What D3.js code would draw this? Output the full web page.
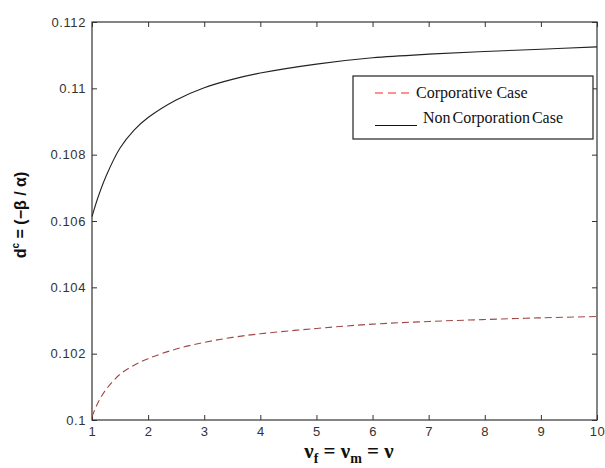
<!DOCTYPE html>
<html><head><meta charset="utf-8">
<script src="https://cdn.jsdelivr.net/npm/d3@7"></script>
<style>
body{margin:0;background:#fff;}
svg{display:block;}
</style></head>
<body><svg id="c" width="605" height="468"></svg>
<script>
const nu = [1, 1.1, 1.25, 1.5, 1.75, 2, 2.5, 3, 3.5, 4, 5, 6, 7, 8, 9, 10];
const nonCorp = [0.10613, 0.10668, 0.10735, 0.10820, 0.10874, 0.10912, 0.10965, 0.11002, 0.11027, 0.11046, 0.11073, 0.11092, 0.11103, 0.11111, 0.11118, 0.11125];
const corp = [0.10010, 0.10050, 0.10092, 0.10138, 0.10165, 0.10185, 0.10214, 0.10234, 0.10249, 0.10260, 0.10276, 0.10289, 0.10297, 0.10303, 0.10308, 0.10312];
const xTicks = [1,2,3,4,5,6,7,8,9,10];
const yTicks = [0.1, 0.102, 0.104, 0.106, 0.108, 0.11, 0.112];
const legendLabels = ["Corporative Case", "Non Corporation Case"];

const svg = d3.select("#c");
const L = 92, R = 597, T = 22, B = 420;
const x = d3.scaleLinear().domain([1,10]).range([L,R]);
const y = d3.scaleLinear().domain([0.1,0.112]).range([B,T]);
const tickFont = "Arial, 'Liberation Sans', sans-serif";
const axCol = "#333";

// frame
svg.append("rect").attr("x",L).attr("y",T).attr("width",R-L).attr("height",B-T)
  .attr("fill","#fff").attr("stroke",axCol).attr("stroke-width",1.2);

// axes with inward ticks
const fmtY = d => String(+d.toFixed(3));
const gB = svg.append("g").attr("transform",`translate(0,${B})`)
  .call(d3.axisBottom(x).tickValues(xTicks).tickSizeInner(-5).tickSizeOuter(0).tickPadding(7).tickFormat(d3.format("d")));
const gT = svg.append("g").attr("transform",`translate(0,${T})`)
  .call(d3.axisTop(x).tickValues(xTicks).tickSizeInner(-5).tickSizeOuter(0).tickFormat(""));
const gL = svg.append("g").attr("transform",`translate(${L},0)`)
  .call(d3.axisLeft(y).tickValues(yTicks).tickSizeInner(-5).tickSizeOuter(0).tickPadding(6).tickFormat(fmtY));
const gR = svg.append("g").attr("transform",`translate(${R},0)`)
  .call(d3.axisRight(y).tickValues(yTicks).tickSizeInner(-5).tickSizeOuter(0).tickFormat(""));
[gB,gT,gL,gR].forEach(g=>{
  g.select(".domain").remove();
  g.selectAll(".tick line").attr("stroke",axCol);
  g.selectAll(".tick text").attr("fill","#333").style("font-family",tickFont).style("font-size","13px").style("letter-spacing","0.6px");
});

// lines
const line = vals => d3.line().x((d,i)=>x(nu[i])).y(d=>y(d)).curve(d3.curveCatmullRom.alpha(0.5))(vals);
svg.append("path").attr("d",line(nonCorp)).attr("fill","none").attr("stroke","#222").attr("stroke-width",1.1);
svg.append("path").attr("d",line(corp)).attr("fill","none").attr("stroke","#a04848").attr("stroke-width",1.1).attr("stroke-dasharray","7,4");

// legend
const lg = svg.append("g");
lg.append("rect").attr("x",353).attr("y",76).attr("width",240).attr("height",63)
  .attr("fill","#fff").attr("stroke","#222").attr("stroke-width",1.2);
lg.append("line").attr("x1",375).attr("x2",410).attr("y1",93).attr("y2",93)
  .attr("stroke","#ff2020").attr("stroke-width",1).attr("stroke-dasharray","8,5");
lg.append("line").attr("x1",375).attr("x2",417).attr("y1",125.5).attr("y2",125.5)
  .attr("stroke","#111").attr("stroke-width",1.2);
lg.append("text").attr("x",416).attr("y",98).text(legendLabels[0])
  .style("font-family","'Liberation Serif','Times New Roman',serif").style("font-size","16px").attr("fill","#111");
lg.append("text").attr("x",423).attr("y",123).text(legendLabels[1])
  .style("font-family","'Liberation Serif','Times New Roman',serif").style("font-size","16px").attr("fill","#111").style("word-spacing","-2px");

// x label
const xl = svg.append("text").attr("x",349).attr("y",458).attr("text-anchor","middle")
  .style("font-family","'Liberation Serif','Times New Roman',serif").style("font-size","21px").style("font-weight","bold").attr("fill","#111");
xl.append("tspan").text("ν");
xl.append("tspan").text("f").attr("dy",5).style("font-size","14px");
xl.append("tspan").text(" = ν").attr("dy",-5);
xl.append("tspan").text("m").attr("dy",5).style("font-size","14px");
xl.append("tspan").text(" = ν").attr("dy",-5);

// y label
const yl = svg.append("text").attr("transform","translate(26,215) rotate(-90)").attr("text-anchor","middle")
  .style("font-family","'Liberation Sans',Arial,sans-serif").style("font-size","16px").style("font-weight","bold").attr("fill","#111");
yl.append("tspan").text("d");
yl.append("tspan").text("c").attr("dy",-7).style("font-size","10px");
yl.append("tspan").text(" = (−β / α)").attr("dy",7);
</script></body></html>
